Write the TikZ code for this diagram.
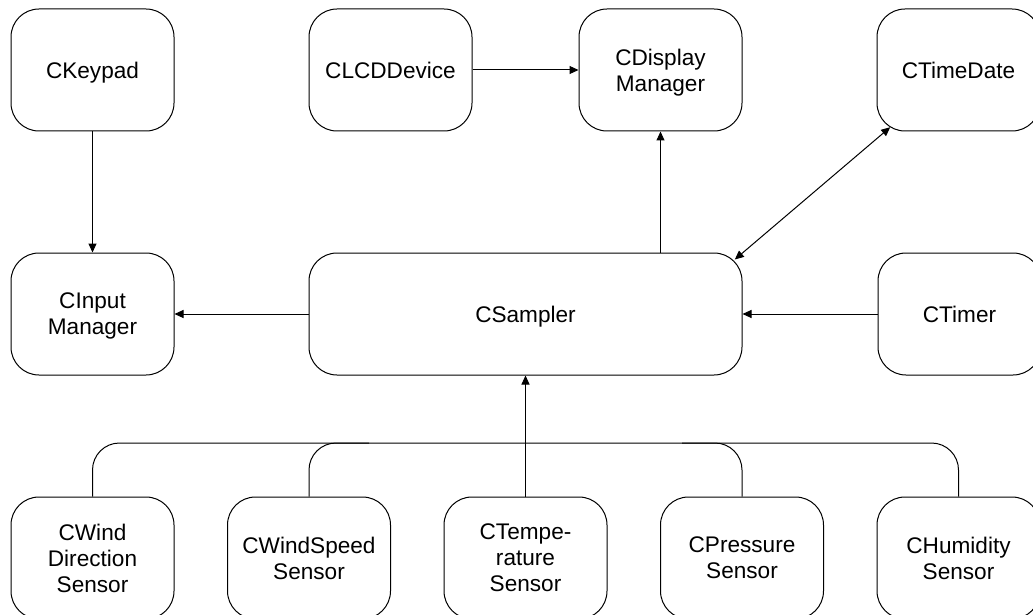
\documentclass[tikz,border=0pt]{standalone}
\usepackage{fontspec}
\setmainfont{Liberation Sans}
\usetikzlibrary{arrows.meta,calc}

\begin{document}
\begin{tikzpicture}[x=1pt,y=1pt,
  line width=1pt,
  box/.style={draw, rounded corners=28pt, minimum width=163pt, minimum height=122pt,
    inner sep=0pt, text depth=0pt, align=center, font=\fontsize{22.6}{26}\selectfont},
  wide/.style={box, minimum width=433pt},
  link/.style={-{Triangle[length=9pt,width=8pt]}},
  dlink/.style={{Triangle[length=9pt,width=8pt]}-{Triangle[length=9pt,width=8pt]}},
  bus/.style={rounded corners=27pt}]
  \useasboundingbox (0,0) rectangle (1033,-615);

  % top row
  \node[box] (kp)  at (92.5,-70)  {CKeypad};
  \node[box] (lcd) at (390.5,-70) {CLCDDevice};
  \node[box] (dm)  at (660.5,-70) {CDisplay\\Manager};
  \node[box] (td)  at (958.5,-70) {CTimeDate};

  % middle row
  \node[box]  (im) at (92.5,-314)  {CInput\\Manager};
  \node[wide] (s)  at (525.5,-314) {CSampler};
  \node[box]  (tm) at (959.5,-314) {CTimer};

  % sensors
  \node[box] (wd) at (92.5,-558)  {CWind\\Direction\\Sensor};
  \node[box] (ws) at (309,-558)   {CWindSpeed\\Sensor};
  \node[box] (tp) at (525.5,-558) {CTempe-\\rature\\Sensor};
  \node[box] (pr) at (742,-558)   {CPressure\\Sensor};
  \node[box] (hu) at (958.5,-558) {CHumidity\\Sensor};

  % plain connectors
  \draw[link] (kp) -- (im);
  \draw[link] (lcd) -- (dm);
  \draw[link] (s.north -| dm) -- (dm);
  \draw[link] (s) -- (im);
  \draw[link] (tm.west) -- (s.east |- tm.west);

  % sampler <-> time/date, corner to corner
  \coordinate (sA) at ($(s.north east)+(-7.7,-7)$);
  \coordinate (tA) at ($(td.south west)+(13.7,4.3)$);
  \draw[dlink] (sA) -- (tA);

  % sensor bus
  \coordinate (busL) at (92.5,-443);
  \draw[bus] (wd.north) -- (wd.north |- busL) -| (hu.north);
  \draw[bus] (ws.north) -- (ws.north |- busL) -- ($(ws.north |- busL)+(60,0)$);
  \draw[bus] (pr.north) -- (pr.north |- busL) -- ($(pr.north |- busL)+(-60,0)$);
  \draw[link] (tp.north) -- (s.south);
\end{tikzpicture}
\end{document}
